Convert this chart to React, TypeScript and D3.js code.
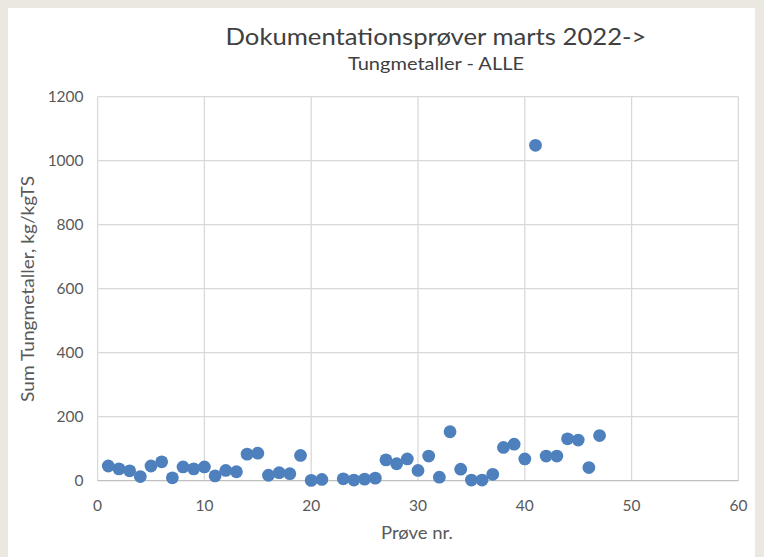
import React from "react";
import * as d3 from "d3";

const title = "Dokumentationsprøver marts 2022->";
const subtitle = "Tungmetaller - ALLE";
const xLabel = "Prøve nr.";
const yLabel = "Sum Tungmetaller, kg/kgTS";

const sampleNo = [1,2,3,4,5,6,7,8,9,10,11,12,13,14,15,16,17,18,19,20,21,23,24,25,26,27,28,29,30,31,32,33,34,35,36,37,38,39,40,41,42,43,44,45,46,47];
const sumMetals = [46,37,31,13,46,59,9,43,37,43,15,32,28,83,86,17,25,22,79,1,4,6,2,5,8,65,53,68,32,77,11,153,36,2,2,20,104,114,68,1048,77,77,131,127,41,141];

const xTicks = [0,10,20,30,40,50,60];
const yTicks = [0,200,400,600,800,1000,1200];

export default function App() {
  const W = 764, H = 557;
  const x = d3.scaleLinear().domain([0, 60]).range([97.6, 738.4]);
  const y = d3.scaleLinear().domain([0, 1200]).range([480.7, 96.7]);
  const font = "Lato, 'Open Sans', sans-serif";
  const tickColor = "#595959";
  return (
    <div style={{ position: "absolute", left: 0, top: 0 }}>
      <svg width={W} height={H} style={{ display: "block" }}>
        <rect x={0} y={0} width={W} height={H} fill="#ebe8e1" />
        <rect x={8} y={8} width={747} height={H - 8} fill="#ffffff" />
        {xTicks.map((t) => (
          <line key={"gx" + t} x1={x(t)} x2={x(t)} y1={y(1200)} y2={y(0)} stroke="#d9d9d9" strokeWidth={1.3} />
        ))}
        {yTicks.map((t) => (
          <line key={"gy" + t} x1={x(0)} x2={x(60)} y1={y(t)} y2={y(t)} stroke={t === 0 ? "#bfbfbf" : "#d9d9d9"} strokeWidth={1.3} />
        ))}
        {yTicks.map((t) => (
          <text key={"ty" + t} x={x(0) - 14} y={y(t)} dy="0.36em" textAnchor="end" fontFamily={font} fontSize={15.5} fill={tickColor}>{t}</text>
        ))}
        {xTicks.map((t) => (
          <text key={"tx" + t} x={x(t)} y={y(0) + 30} textAnchor="middle" fontFamily={font} fontSize={15.5} fill={tickColor}>{t}</text>
        ))}
        {sampleNo.map((n, i) => (
          <circle key={"p" + n} cx={x(n)} cy={y(sumMetals[i])} r={6.4} fill="#4e80bd" />
        ))}
        <text x={436} y={45} textAnchor="middle" fontFamily={font} fontSize={24} textLength={421} lengthAdjust="spacingAndGlyphs" fill="#404040">{title}</text>
        <text x={436} y={70} textAnchor="middle" fontFamily={font} fontSize={17} textLength={176} lengthAdjust="spacingAndGlyphs" fill="#404040">{subtitle}</text>
        <text x={417} y={539} textAnchor="middle" fontFamily={font} fontSize={16.5} textLength={72} lengthAdjust="spacingAndGlyphs" fill={tickColor}>{xLabel}</text>
        <text transform={`translate(34,289) rotate(-90)`} textAnchor="middle" fontFamily={font} fontSize={16.5} textLength={226} lengthAdjust="spacingAndGlyphs" fill={tickColor}>{yLabel}</text>
      </svg>
    </div>
  );
}
